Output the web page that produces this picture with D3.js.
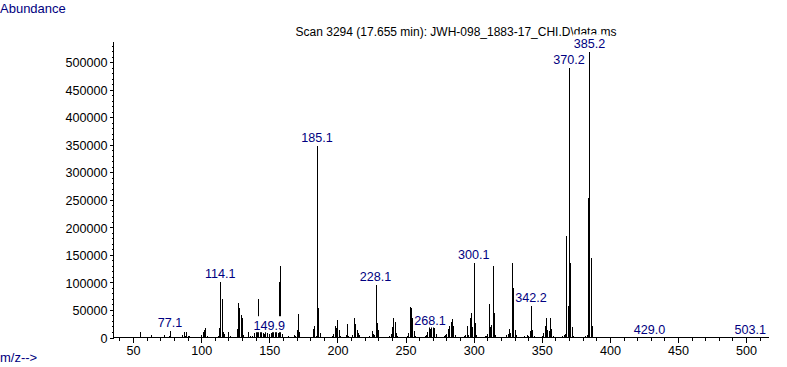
<!DOCTYPE html>
<html>
<head>
<meta charset="utf-8">
<script src="https://cdn.jsdelivr.net/npm/d3@7"></script>
<style>
  html, body { margin: 0; padding: 0; background: #fff; }
  svg { display: block; font-family: "Liberation Sans", Arial, sans-serif; }
</style>
</head>
<body>
<svg id="chart" width="787" height="367"></svg>
<script>
const title = 'Scan 3294 (17.655 min): JWH-098_1883-17_CHI.D\\data.ms'

// [m/z, abundance]
const peaksLow = [
  [41, 1500], [43, 2500], [44, 1500], [51, 2500], [52, 2000], [53, 2500], [55, 11500], [57, 2500],
  [62, 3000], [63, 6000], [64, 3000], [65, 2500], [66, 3000], [68, 2500], [69, 2000], [71, 2500],
  [73, 5500], [74, 3500], [75, 2500], [76, 4000], [77, 13300], [78, 3500], [81, 1500], [83, 2500],
  [85, 2500], [86, 6000], [87, 11000], [88, 5000], [89, 12500], [90, 4000], [91, 4000], [95, 2500],
  [96, 2000], [97, 2500], [99, 3000], [100, 6000], [101, 11000], [102, 15500], [103, 18500], [104, 4500],
  [105, 2500], [106, 2000], [112, 4000], [113, 19000], [114, 103000], [115, 72000], [116, 12000],
  [117, 8000], [118, 3000], [119, 2500], [120, 12000], [121, 4000], [125, 3000], [126, 18000],
  [127, 64000], [128, 55000], [129, 43000], [130, 37000], [131, 6000], [132, 2500]
]
const peaksMid = [
  [133, 3000], [134, 11000], [135, 3000], [136, 5000], [137, 4000], [139, 10000], [140, 12000],
  [141, 15000], [142, 72000], [143, 12000], [144, 14000], [145, 10000], [146, 9000], [147, 11000],
  [148, 10000], [150, 8700], [151, 10000], [152, 11000], [153, 12000], [154, 13000], [155, 15000],
  [156, 10000], [157, 103000], [158, 132000], [159, 9000], [160, 3000], [163, 3000], [164, 5000],
  [166, 2500], [168, 6000], [169, 4000], [170, 16000], [171, 45000], [172, 11000], [173, 3000],
  [175, 2500], [176, 3000], [177, 2500], [180, 3000], [181, 2500], [182, 18000], [183, 22000],
  [184, 4000], [185, 350000], [186, 55000], [187, 10000], [188, 3000], [190, 2500], [191, 3000],
  [193, 3500], [194, 2500], [196, 4000], [197, 9000], [198, 22000], [199, 19000], [200, 33000],
  [201, 15000], [202, 4000], [204, 2500], [205, 3500], [206, 6000], [207, 26000], [208, 5000],
  [209, 3000], [211, 6000], [212, 38000], [213, 26000], [214, 16000], [215, 10000], [216, 7000],
  [217, 3000], [219, 2500], [221, 3000], [223, 4000], [224, 3000], [225, 14000], [226, 8000],
  [227, 6000], [228, 97000], [229, 28000], [230, 16000], [231, 3000], [233, 2500], [235, 3000],
  [236, 3500], [238, 4000], [239, 8000], [240, 20000], [241, 38000], [242, 30000], [243, 10000],
  [244, 4000], [246, 2500], [249, 3000], [250, 3500], [251, 4000], [252, 10000], [253, 58000],
  [254, 55000], [255, 38000], [256, 13000], [257, 4000], [258, 2500]
]
const peaksHigh = [
  [260, 3000], [262, 2500], [263, 3500], [264, 4000], [265, 6000], [266, 12000], [267, 20000],
  [268, 17300], [269, 22000], [270, 24000], [271, 19000], [272, 8500], [273, 3000], [275, 2500],
  [277, 3000], [278, 4000], [279, 6000], [280, 8000], [281, 18000], [282, 22000], [283, 30000],
  [284, 36000], [285, 23000], [286, 6000], [287, 3000], [290, 2500], [292, 3000], [293, 4000],
  [294, 6000], [295, 22000], [296, 6000], [297, 38000], [298, 47000], [299, 20000], [300, 137000],
  [301, 28000], [302, 6000], [303, 2500], [306, 2500], [307, 3000], [308, 4000], [309, 5000],
  [310, 8000], [311, 63000], [312, 20000], [313, 25000], [314, 131000], [315, 46000], [316, 7000],
  [317, 2500], [320, 2500], [322, 3000], [323, 3500], [324, 7000], [325, 8000], [326, 17000],
  [327, 10000], [328, 137000], [329, 92000], [330, 16000], [331, 6000], [332, 2500], [335, 2500],
  [337, 4000], [338, 2500], [339, 7000], [340, 5000], [341, 13000], [342, 59000], [343, 16000],
  [344, 4000], [346, 2500], [348, 2500], [349, 3000], [350, 5000], [351, 10000], [352, 22000],
  [353, 37000], [354, 16000], [355, 13000], [356, 37000], [357, 17000], [358, 4000], [360, 2000],
  [363, 2500], [364, 3000], [365, 4000], [366, 6000], [367, 9000], [368, 186000], [369, 59000],
  [370, 491000], [371, 137000], [372, 21000], [373, 4000], [376, 2000], [379, 2500], [381, 3000],
  [382, 4000], [383, 6000], [384, 256000], [385, 521000], [386, 147000], [387, 23000], [388, 3000],
  [429, 1000], [503, 1000]
]

// labelled peaks: [m/z of the line, label text]
const peakLabels = [
  [77, '77.1'], [114, '114.1'], [150, '149.9'], [185, '185.1'], [228, '228.1'], [268, '268.1'],
  [300, '300.1'], [342, '342.2'], [370, '370.2'], [385, '385.2'], [429, '429.0'], [503, '503.1']
]

const xMajorTicks = [50, 100, 150, 200, 250, 300, 350, 400, 450, 500]
const yMajorTicks = [0, 50000, 100000, 150000, 200000, 250000, 300000, 350000, 400000, 450000, 500000]

const peaks = peaksLow.concat(peaksMid, peaksHigh)
const svg = d3.select('#chart')
const navy = '#000080'
const numSize = '12.6px'

const x = d3.scaleLinear().domain([35.6, 516.8]).range([113.5, 769])
const y = d3.scaleLinear().domain([0, 538000]).range([337.5, 41.5])
const px = (m) => Math.round(x(m)) + 0.5

// title
svg.append('text')
  .attr('x', 456).attr('y', 36)
  .attr('text-anchor', 'middle')
  .style('font-size', '12px')
  .text(title)

svg.append('text').attr('x', 0).attr('y', 13)
  .style('font-size', '13px').style('fill', navy).text('Abundance')
svg.append('text').attr('x', 0).attr('y', 362)
  .style('font-size', '13px').style('fill', navy).text('m/z-->')

// y axis: minor ticks every 10000, major every 50000
const yMinor = d3.axisLeft(y).tickValues(d3.range(0, 538000, 10000)).tickSize(2).tickFormat('')
const yMajor = d3.axisLeft(y).tickValues(yMajorTicks).tickSize(4).tickPadding(2).tickFormat(d3.format('d'))

svg.append('g').attr('transform', 'translate(113.5,0)').call(yMinor)
svg.append('g').attr('transform', 'translate(113.5,0)').call(yMajor)
  .selectAll('text').style('font-size', numSize).attr('dy', '0.36em')

// x axis: minor ticks every 10, major every 50
const xMinor = d3.axisBottom(x).tickValues(d3.range(40, 517, 10)).tickSize(3).tickFormat('')
const xMajor = d3.axisBottom(x).tickValues(xMajorTicks).tickSize(5).tickPadding(4).tickFormat(d3.format('d'))

svg.append('g').attr('transform', 'translate(0,337.5)').call(xMinor)
svg.append('g').attr('transform', 'translate(0,337.5)').call(xMajor)
  .selectAll('text').style('font-size', numSize)

svg.selectAll('.domain').remove()
svg.selectAll('.tick line').attr('shape-rendering', 'crispEdges')

// axis lines
svg.append('line').attr('x1', 113.5).attr('x2', 113.5).attr('y1', 41.5).attr('y2', 337.5)
  .attr('stroke', '#000').attr('shape-rendering', 'crispEdges')
svg.append('line').attr('x1', 113.5).attr('x2', 769).attr('y1', 337.5).attr('y2', 337.5)
  .attr('stroke', '#000').attr('shape-rendering', 'crispEdges')

// peaks
svg.append('g')
  .selectAll('line')
  .data(peaks)
  .join('line')
  .attr('x1', (d) => px(d[0]))
  .attr('x2', (d) => px(d[0]))
  .attr('y1', 337.5)
  .attr('y2', (d) => Math.round(y(d[1])) + 0.5)
  .attr('stroke', '#000')
  .attr('shape-rendering', 'crispEdges')

// peak labels with white boxes (they cover whatever lies behind)
const abundanceAt = new Map(peaks)
const labelG = svg.append('g')
peakLabels.forEach(([m, label]) => {
  const top = y(abundanceAt.get(m))
  const base = top - 3
  const g = labelG.append('g')
  const rect = g.append('rect').attr('fill', '#fff')
  const t = g.append('text')
    .attr('x', x(m)).attr('y', base)
    .attr('text-anchor', 'middle')
    .style('font-size', numSize)
    .style('fill', navy)
    .text(label)
  const w = t.node().getComputedTextLength()
  rect.attr('x', x(m) - w / 2 - 1).attr('y', base - 13.5)
    .attr('width', w + 2).attr('height', 16)
})
</script>
</body>
</html>
